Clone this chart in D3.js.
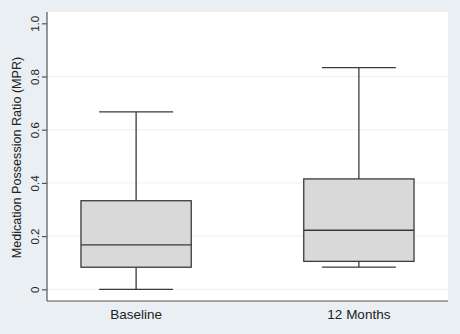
<!DOCTYPE html>
<html>
<head>
<meta charset="utf-8">
<script src="https://cdn.jsdelivr.net/npm/d3@7"></script>
<style>
html,body{margin:0;padding:0;background:#e9eff2;}
svg{display:block;font-family:"Liberation Sans",Arial,sans-serif;}
</style>
</head>
<body>
<svg id="chart" width="460" height="334"></svg>
<script>
// Data
const categories = ["Baseline", "12 Months"];
const whiskerLow  = [0.000, 0.083];
const q1          = [0.083, 0.105];
const median      = [0.167, 0.222];
const q3          = [0.333, 0.415];
const whiskerHigh = [0.667, 0.833];
const yTicks = [0, 0.2, 0.4, 0.6, 0.8, 1.0];
const yTitle = "Medication Possession Ratio (MPR)";

const W = 460, H = 334;
const plot = {left: 47, right: 448, top: 12, bottom: 301};
const svg = d3.select("#chart");

svg.append("rect").attr("x",0).attr("y",0).attr("width",W).attr("height",H).attr("fill","#e9eff2");
svg.append("rect").attr("x",plot.left).attr("y",plot.top)
  .attr("width",plot.right-plot.left).attr("height",plot.bottom-plot.top).attr("fill","#ffffff");

const y = d3.scaleLinear().domain([0,1]).range([289.3, 23.3]);
const x = d3.scalePoint().domain(categories).range([plot.left, plot.right]).padding(0.4);
const boxW = x.step()*0.495;
const capHalf = x.step()*0.166;

// gridlines (not at top extreme)
svg.append("g").selectAll("line").data(yTicks.filter(t => t < 1)).join("line")
  .attr("x1", plot.left).attr("x2", plot.right)
  .attr("y1", d => y(d)).attr("y2", d => y(d))
  .attr("stroke", "#eaf0f2").attr("stroke-width", 1);

// y axis
const yAxis = d3.axisLeft(y).tickValues(yTicks).tickSize(5).tickPadding(3)
  .tickFormat(d => d === 0 ? "0" : d3.format(".1f")(d));
const ga = svg.append("g").attr("transform", `translate(${plot.left},0)`).call(yAxis);
ga.select(".domain").remove();
ga.selectAll(".tick line").attr("stroke","#555").attr("stroke-width",1.2);
ga.selectAll(".tick text")
  .attr("font-size", "11.5px").attr("fill","#222")
  .attr("x", null).attr("dy", null)
  .attr("text-anchor","middle")
  .attr("transform", "translate(-8,0) rotate(-90)");
svg.append("line").attr("x1",plot.left).attr("x2",plot.left)
  .attr("y1",plot.top).attr("y2",plot.bottom).attr("stroke","#555").attr("stroke-width",1.2);

// x axis
svg.append("line").attr("x1",plot.left).attr("x2",plot.right)
  .attr("y1",plot.bottom).attr("y2",plot.bottom).attr("stroke","#555").attr("stroke-width",1.2);
svg.append("g").selectAll("text").data(categories).join("text")
  .attr("x", d => x(d)).attr("y", 319)
  .attr("text-anchor","middle").attr("font-size","13.5px").attr("fill","#222")
  .text(d => d);

// y title
svg.append("text").attr("transform", `translate(21,157.5) rotate(-90)`)
  .attr("text-anchor","middle").attr("font-size","12.6px").attr("fill","#222")
  .text(yTitle);

// boxes
const data = categories.map((c,i)=>({c, lo:whiskerLow[i], q1:q1[i], med:median[i], q3:q3[i], hi:whiskerHigh[i]}));
const stroke = "#3a3a3a", sw = 1.3;
const g = svg.append("g");
const bx = g.selectAll("g").data(data).join("g");
bx.append("line").attr("x1",d=>x(d.c)).attr("x2",d=>x(d.c))
  .attr("y1",d=>y(d.hi)).attr("y2",d=>y(d.q3)).attr("stroke",stroke).attr("stroke-width",sw);
bx.append("line").attr("x1",d=>x(d.c)).attr("x2",d=>x(d.c))
  .attr("y1",d=>y(d.q1)).attr("y2",d=>y(d.lo)).attr("stroke",stroke).attr("stroke-width",sw);
bx.append("line").attr("x1",d=>x(d.c)-capHalf).attr("x2",d=>x(d.c)+capHalf)
  .attr("y1",d=>y(d.hi)).attr("y2",d=>y(d.hi)).attr("stroke",stroke).attr("stroke-width",sw);
bx.append("line").attr("x1",d=>x(d.c)-capHalf).attr("x2",d=>x(d.c)+capHalf)
  .attr("y1",d=>y(d.lo)).attr("y2",d=>y(d.lo)).attr("stroke",stroke).attr("stroke-width",sw);
bx.append("rect").attr("x",d=>x(d.c)-boxW/2).attr("width",boxW)
  .attr("y",d=>y(d.q3)).attr("height",d=>y(d.q1)-y(d.q3))
  .attr("fill","#d9d9d9").attr("stroke",stroke).attr("stroke-width",sw);
bx.append("line").attr("x1",d=>x(d.c)-boxW/2).attr("x2",d=>x(d.c)+boxW/2)
  .attr("y1",d=>y(d.med)).attr("y2",d=>y(d.med)).attr("stroke",stroke).attr("stroke-width",sw);
</script>
</body>
</html>
